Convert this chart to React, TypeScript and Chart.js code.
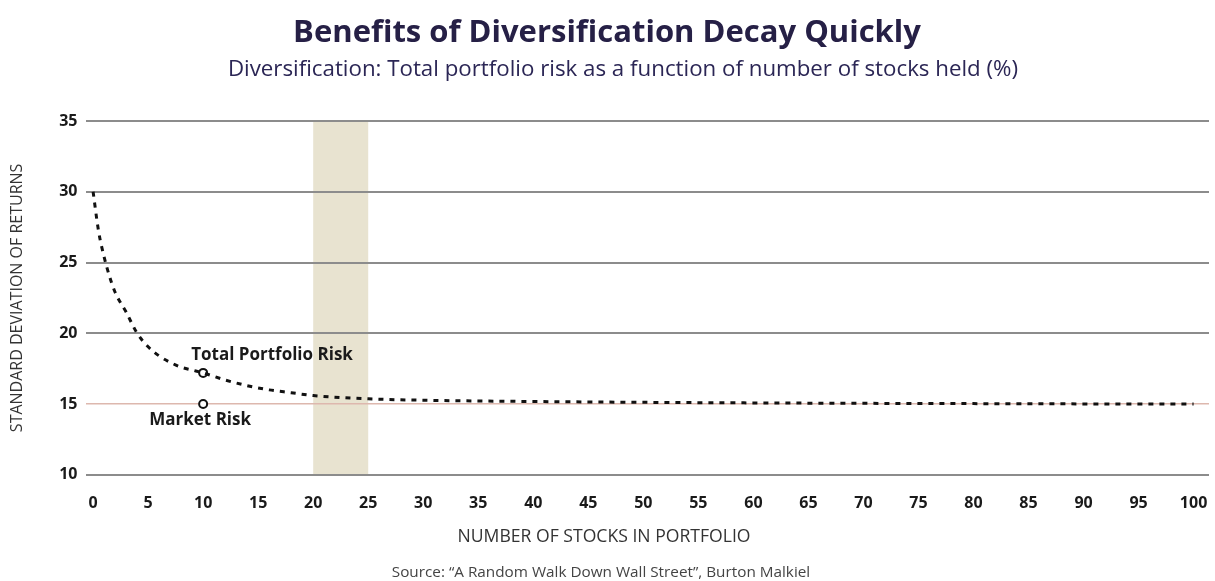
import React, { useEffect, useRef } from 'react';
import { Chart, registerables } from 'chart.js';

Chart.register(...registerables);

// ---- data ----
const stocksHeld = [0, 0.5, 1, 1.5, 2, 3, 4, 5, 6, 7, 8, 9, 10, 12, 14, 16, 18, 20, 25, 30, 40, 50, 60, 70, 80, 90, 100];
const totalPortfolioRisk = [30, 27.2, 25.4, 24.0, 22.9, 21.5, 20.0, 19.05, 18.4, 17.95, 17.6, 17.4, 17.2, 16.7, 16.3, 16.0, 15.8, 15.6, 15.37, 15.27, 15.18, 15.12, 15.08, 15.05, 15.03, 15.01, 15.0];
const marketRisk = 15;
const markerStocks = 10;
const markerTotalRisk = 17.2;
const xTickValues = [0, 5, 10, 15, 20, 25, 30, 35, 40, 45, 50, 55, 60, 65, 70, 75, 80, 85, 90, 95, 100];
const yTickValues = [10, 15, 20, 25, 30, 35];
const shadedBand = [20, 25];

const titleText = 'Benefits of Diversification Decay Quickly';
const subtitleText = 'Diversification: Total portfolio risk as a function of number of stocks held (%)';
const yAxisTitle = 'STANDARD DEVIATION OF RETURNS';
const xAxisTitle = 'NUMBER OF STOCKS IN PORTFOLIO';
const sourceText = 'Source: \u201cA Random Walk Down Wall Street\u201d, Burton Malkiel';
const totalLabel = 'Total Portfolio Risk';
const marketLabel = 'Market Risk';

const FONT = "'Open Sans', sans-serif";

export default function App() {
  const canvasRef = useRef<HTMLCanvasElement | null>(null);

  useEffect(() => {
    document.body.style.margin = '0';
    const canvas = canvasRef.current;
    if (!canvas) return;

    const bandPlugin = {
      id: 'band',
      beforeDraw(chart: any) {
        const { ctx, chartArea, scales } = chart;
        const x0 = scales.x.getPixelForValue(shadedBand[0]);
        const x1 = scales.x.getPixelForValue(shadedBand[1]);
        ctx.save();
        ctx.fillStyle = '#e8e3d0';
        ctx.fillRect(x0, chartArea.top, x1 - x0, chartArea.bottom - chartArea.top);
        ctx.restore();
      },
    };

    const textPlugin = {
      id: 'annot',
      afterDatasetsDraw(chart: any) {
        const { ctx, scales } = chart;
        const mx = scales.x.getPixelForValue(markerStocks);
        const tY = scales.y.getPixelForValue(markerTotalRisk);
        const mY = scales.y.getPixelForValue(marketRisk);
        ctx.save();
        ctx.fillStyle = '#1a1a1a';
        ctx.font = `bold 17px ${FONT}`;
        ctx.textBaseline = 'middle';
        ctx.textAlign = 'left';
        ctx.fillText(totalLabel, mx - 12, tY - 18);
        ctx.textAlign = 'center';
        ctx.fillText(marketLabel, mx - 3, mY + 16);
        ctx.restore();
      },
      afterDraw(chart: any) {
        const { ctx, height } = chart;
        ctx.save();
        ctx.textAlign = 'center';
        ctx.textBaseline = 'middle';
        // headings
        ctx.fillStyle = '#262046';
        ctx.font = `bold 31px ${FONT}`;
        ctx.fillText(titleText, 607, 33);
        ctx.fillStyle = '#2b2655';
        ctx.font = `22.3px ${FONT}`;
        ctx.fillText(subtitleText, 623, 70);
        // x axis title and source
        ctx.fillStyle = '#333';
        ctx.font = `17.6px ${FONT}`;
        ctx.fillText(xAxisTitle, 604, height - 44);
        ctx.fillStyle = '#444';
        ctx.font = `15.3px ${FONT}`;
        ctx.fillText(sourceText, 601, height - 8);
        ctx.restore();
      },
    };

    const chart = new Chart(canvas, {
      type: 'scatter',
      data: {
        datasets: [
          {
            label: 'Total Portfolio Risk',
            data: stocksHeld.map((x, i) => ({ x, y: totalPortfolioRisk[i] })),
            showLine: true,
            borderColor: '#111',
            borderWidth: 3,
            borderDash: [5, 6],
            pointRadius: 0,
            cubicInterpolationMode: 'monotone',
            fill: false,
          },
          {
            label: 'Markers',
            data: [
              { x: markerStocks, y: markerTotalRisk },
              { x: markerStocks, y: marketRisk },
            ],
            showLine: false,
            pointRadius: 4,
            pointBorderWidth: 2,
            pointBackgroundColor: '#fff',
            pointBorderColor: '#111',
          },
        ],
      },
      plugins: [bandPlugin, textPlugin],
      options: {
        animation: false,
        responsive: false,
        layout: { padding: { left: 8, right: 5, top: 121, bottom: 67.6 } },
        plugins: {
          legend: { display: false },
          tooltip: { enabled: false },
          title: { display: false },
          subtitle: { display: false },
        },
        scales: {
          x: {
            type: 'linear',
            min: -0.6,
            max: 101.4,
            afterBuildTicks(scale: any) {
              scale.ticks = xTickValues.map((v) => ({ value: v }));
            },
            grid: { display: false, drawTicks: true, tickLength: 19.4 },
            border: { display: false },
            ticks: {
              color: '#1a1a1a',
              font: { family: FONT, size: 16, weight: 'bold' },
              padding: 0,
              maxRotation: 0,
              autoSkip: false,
            },
          },
          y: {
            type: 'linear',
            min: 10,
            max: 35,
            afterBuildTicks(scale: any) {
              scale.ticks = yTickValues.map((v) => ({ value: v }));
            },
            grid: {
              drawTicks: false,
              color: (c: any) => (c.tick && c.tick.value === marketRisk ? '#ddb8ae' : '#8c8c8c'),
              lineWidth: (c: any) => (c.tick && c.tick.value === marketRisk ? 1.5 : 2),
            },
            border: { display: false },
            ticks: {
              color: '#1a1a1a',
              font: { family: FONT, size: 16, weight: 'bold' },
              padding: 9,
            },
            title: {
              display: true,
              text: yAxisTitle,
              color: '#333',
              font: { family: FONT, size: 16 },
              padding: { top: 0, bottom: 23 },
            },
          },
        },
      },
    } as any);

    return () => chart.destroy();
  }, []);

  return (
    <div style={{ width: 1215, height: 581, background: '#fff' }}>
      <canvas ref={canvasRef} width={1215} height={581} style={{ display: 'block' }} />
    </div>
  );
}
